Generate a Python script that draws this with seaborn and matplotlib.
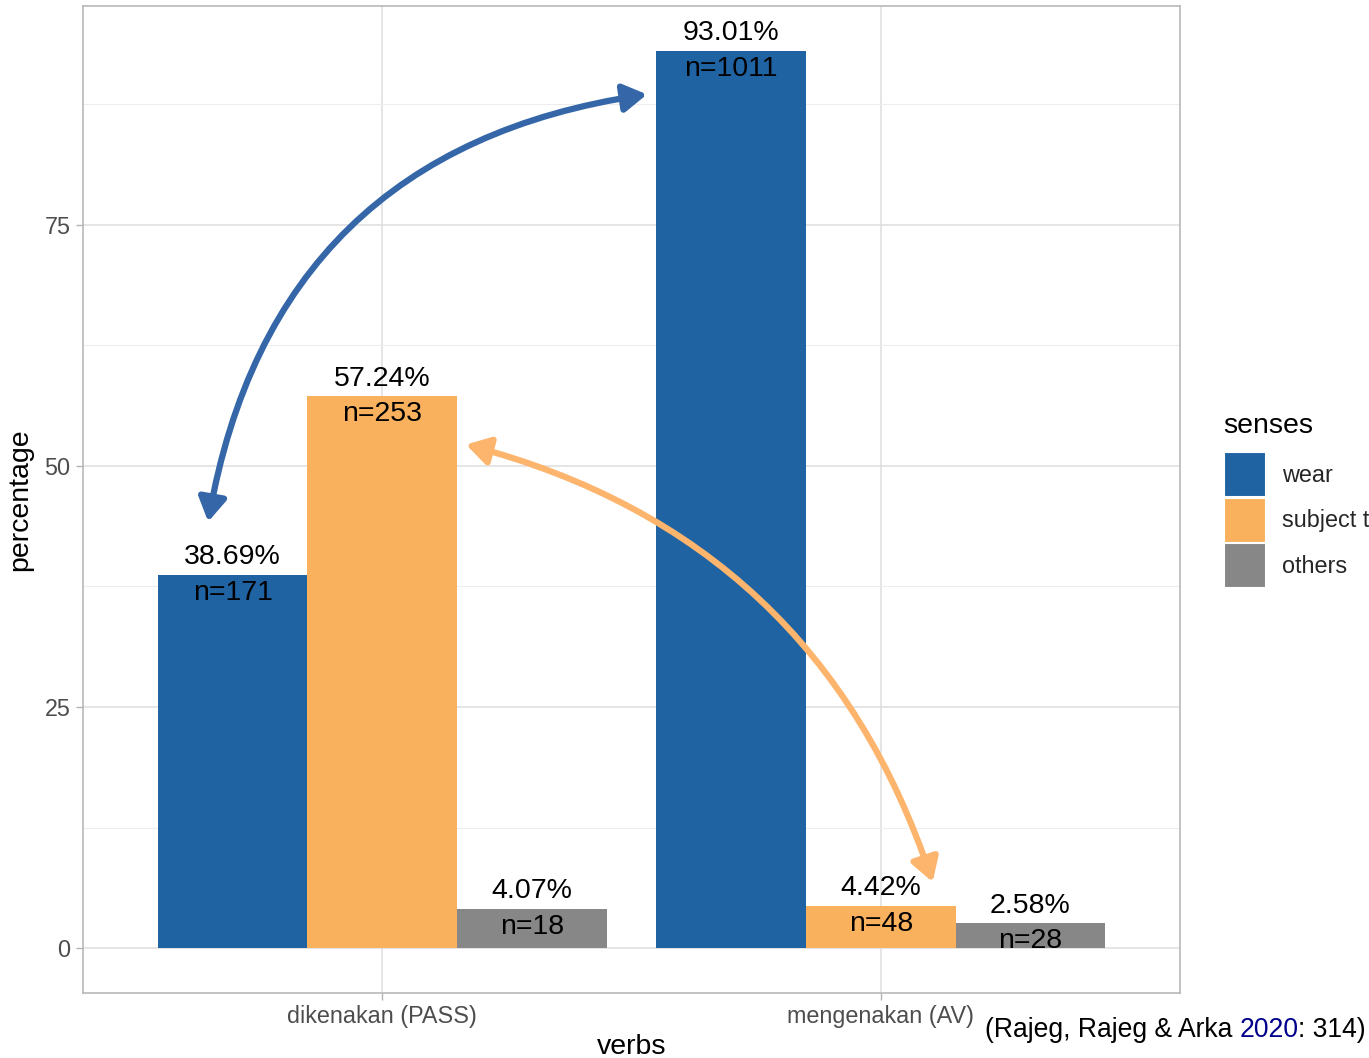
import pandas as pd
import seaborn as sns
import matplotlib.pyplot as plt
from matplotlib.patches import Patch
from matplotlib.ticker import MultipleLocator

verbs = ["dikenakan (PASS)", "dikenakan (PASS)", "dikenakan (PASS)",
         "mengenakan (AV)", "mengenakan (AV)", "mengenakan (AV)"]
senses = ["wear", "subject to", "others", "wear", "subject to", "others"]
percentage = [38.69, 57.24, 4.07, 93.01, 4.42, 2.58]
counts = [171, 253, 18, 1011, 48, 28]

sense_order = ["wear", "subject to", "others"]
verb_order = ["dikenakan (PASS)", "mengenakan (AV)"]
palette = {"wear": "#1F63A3", "subject to": "#F9B15E", "others": "#878787"}

df = pd.DataFrame({"verbs": verbs, "senses": senses,
                   "percentage": percentage, "n": counts})

sns.set_theme(style="whitegrid")
plt.rcParams["font.family"] = ["Liberation Sans", "DejaVu Sans"]

fig = plt.figure(figsize=(13.69, 10.58), dpi=100)
ax = fig.add_axes([83 / 1369, 65 / 1058, 1097 / 1369, 987 / 1058])

sns.barplot(data=df, x="verbs", y="percentage", hue="senses",
            order=verb_order, hue_order=sense_order, palette=palette,
            width=0.9, saturation=1, linewidth=0, legend=False, ax=ax)

ax.set_xlim(-0.6, 1.6)
ax.set_ylim(-4.65, 97.66)
ax.yaxis.set_major_locator(MultipleLocator(25))
ax.yaxis.set_minor_locator(MultipleLocator(12.5))
ax.grid(which="major", color="#DEDEDE", linewidth=1.1)
ax.grid(which="minor", axis="y", color="#EDEDED", linewidth=0.8)
ax.set_axisbelow(True)
for s in ax.spines.values():
    s.set_color("#B3B3B3")
    s.set_linewidth(1.1)
ax.tick_params(axis="both", which="major", length=5, width=1.0,
               color="#B3B3B3", labelsize=16.8, labelcolor="#4D4D4D", pad=4,
               left=True, bottom=True)
ax.tick_params(axis="y", which="minor", length=0)
ax.set_xlabel("verbs", fontsize=20.5, color="black", labelpad=4)
ax.set_ylabel("percentage", fontsize=20.5, color="black", labelpad=8)

# labels on bars
for bar in ax.patches:
    h = bar.get_height()
    xc = bar.get_x() + bar.get_width() / 2
    row = df[(df["percentage"] - h).abs() < 1e-6].iloc[0]
    ax.annotate(f"{row['percentage']:.2f}%", (xc, h), xytext=(0, 7.5),
                textcoords="offset points", ha="center", va="baseline",
                fontsize=20.5, color="black")
    ax.annotate(f"n={row['n']}", (xc, h), xytext=(0, -18),
                textcoords="offset points", ha="center", va="baseline",
                fontsize=20.5, color="black")

# curved arrows
head = "<|-|>,head_length=0.7,head_width=0.42"
ax.annotate("", xy=(0.531, 88.5), xytext=(-0.349, 44.2),
            arrowprops=dict(arrowstyle=head, mutation_scale=20,
                            connectionstyle="arc3,rad=-0.36",
                            color="#3567A8", lw=4.5, shrinkA=0, shrinkB=0))
ax.annotate("", xy=(1.104, 6.85), xytext=(0.168, 52.2),
            arrowprops=dict(arrowstyle=head, mutation_scale=20,
                            connectionstyle="arc3,rad=-0.27",
                            color="#FDB56E", lw=4.5, shrinkA=0, shrinkB=0))

# legend
fig.text(1223 / 1369, 1 - 426 / 1058, "senses", ha="left", va="center",
         fontsize=20.5, color="black")
handles = [Patch(facecolor=palette[s], edgecolor="white", linewidth=1.5, label=s)
           for s in sense_order]
fig.legend(handles=handles, loc="upper left",
           bbox_to_anchor=(1224 / 1369, 1 - 452 / 1058), frameon=False,
           fontsize=16.8, handlelength=1.8,
           handleheight=2.6, labelspacing=0.02, handletextpad=0.7,
           borderpad=0, borderaxespad=0)

# caption, built right to left so "2020" can be coloured
fig.canvas.draw()
r = fig.canvas.get_renderer()
x = 1366 / 1369
y = 1 - 1037 / 1058
parts = [(": 314)", "black"), ("2020", "#00008B"),
         ("(Rajeg, Rajeg & Arka ", "black")]
for part, col in parts:
    t = fig.text(x, y, part, ha="right", va="baseline", fontsize=19.1, color=col)
    bb = t.get_window_extent(renderer=r)
    x -= bb.width / fig.bbox.width

fig.savefig("out.png", dpi=100)
